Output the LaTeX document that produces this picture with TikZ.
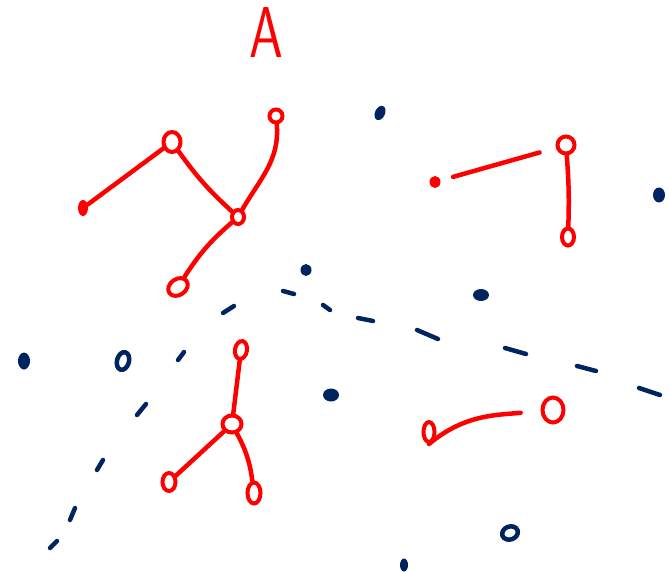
\documentclass[tikz,border=0pt]{standalone}
\usepackage{tikz}
\usetikzlibrary{shapes.geometric}
\usepackage{xcolor}
\definecolor{penred}{RGB}{255,0,0}
\definecolor{inkblue}{RGB}{0,36,96}

\begin{document}
\begin{tikzpicture}[x=1pt,y=1pt]
\useasboundingbox (0,0) rectangle (669,-572);
\tikzstyle{vertex}=[ellipse, draw=penred, line width=4pt, inner sep=0pt]
\tikzstyle{blob}=[ellipse, fill=penred, inner sep=0pt]
\tikzstyle{dot}=[ellipse, fill=inkblue, inner sep=0pt]
\tikzstyle{ring}=[ellipse, draw=inkblue, line width=4.5pt, inner sep=0pt]
\tikzstyle{edge}=[penred, line width=4.5pt, line cap=round]
\tikzstyle{gapline}=[inkblue, line width=4.5pt, line cap=round]
\node[text=penred, font=\sffamily\fontsize{72}{72}\selectfont, xscale=0.75, transform shape] (title) at (266,-33) {A};
% first tree
\node[vertex, minimum width=17pt, minimum height=20pt] (a1) at (172,-142) {};
\node[blob, minimum width=10pt, minimum height=16pt] (a2) at (83,-208) {};
\node[vertex, minimum width=12pt, minimum height=14pt] (a3) at (238,-217) {};
\node[vertex, minimum width=13pt, minimum height=13pt] (a4) at (276,-116) {};
\node[vertex, minimum width=21pt, minimum height=16pt, rotate=35] (a5) at (178,-287) {};
\draw[edge] (a2) -- (a1);
\draw[edge] (a1) to[bend right=6] (a3);
\draw[edge] (a3) to[out=60, in=-85] (a4);
\draw[edge] (a3) to[bend right=8] (a5);
% second tree
\node[vertex, minimum width=17pt, minimum height=17pt] (b1) at (566,-145) {};
\node[blob, minimum width=11pt, minimum height=12pt] (b2) at (435,-182) {};
\node[vertex, minimum width=12pt, minimum height=17pt] (b3) at (568,-237) {};
\draw[edge, shorten <=13pt, shorten >=17pt] (b2) -- (b1);
\draw[edge] (b1) to[bend left=3] (b3);
% third tree
\node[vertex, minimum width=12pt, minimum height=18pt, rotate=-10] (c1) at (241,-350) {};
\node[vertex, minimum width=19pt, minimum height=17pt] (c2) at (232,-424) {};
\node[vertex, minimum width=13pt, minimum height=18pt] (c3) at (169,-482) {};
\node[vertex, minimum width=13pt, minimum height=21pt] (c4) at (254,-493) {};
\draw[edge] (c1) -- (c2);
\draw[edge] (c2) -- (c3);
\draw[edge] (c2) to[bend left=10] (c4);
% fourth pair
\node[vertex, minimum width=11pt, minimum height=20pt] (e1) at (429,-432) {};
\node[vertex, minimum width=21pt, minimum height=25pt] (e2) at (553,-410) {};
\draw[edge, shorten >=20pt] (e1.south) to[out=40, in=185] (e2);
% loose points
\node[dot, minimum width=10pt, minimum height=15pt, rotate=-25] (d1) at (380,-113) {};
\node[dot, minimum width=12pt, minimum height=15pt] (d2) at (659,-195) {};
\node[dot, minimum width=11pt, minimum height=12pt] (d3) at (306,-270) {};
\node[dot, minimum width=16pt, minimum height=12pt] (d4) at (481,-295) {};
\node[dot, minimum width=12pt, minimum height=17pt] (d5) at (24,-361) {};
\node[ring, minimum width=12pt, minimum height=18pt, rotate=-15] (d6) at (123,-361) {};
\node[dot, minimum width=16pt, minimum height=13pt] (d7) at (331,-395) {};
\node[ring, minimum width=16pt, minimum height=13pt, rotate=20] (d8) at (510,-533) {};
\node[dot, minimum width=8pt, minimum height=13pt] (d9) at (404,-565) {};
% dashed stroke
\foreach \xa/\ya/\xb/\yb in {50/548/57/541, 70/520/75/508, 97/470/103/460, 137/415/146/404,
  178/360/184/352, 223/313/234/306, 283/291/294/294, 323/305/330/310, 358/318/373/321,
  417/330/438/339, 505/348/526/354, 577/366/596/371, 639/388/660/395}
  \draw[gapline] (\xa,-\ya) -- (\xb,-\yb);
\end{tikzpicture}
\end{document}
